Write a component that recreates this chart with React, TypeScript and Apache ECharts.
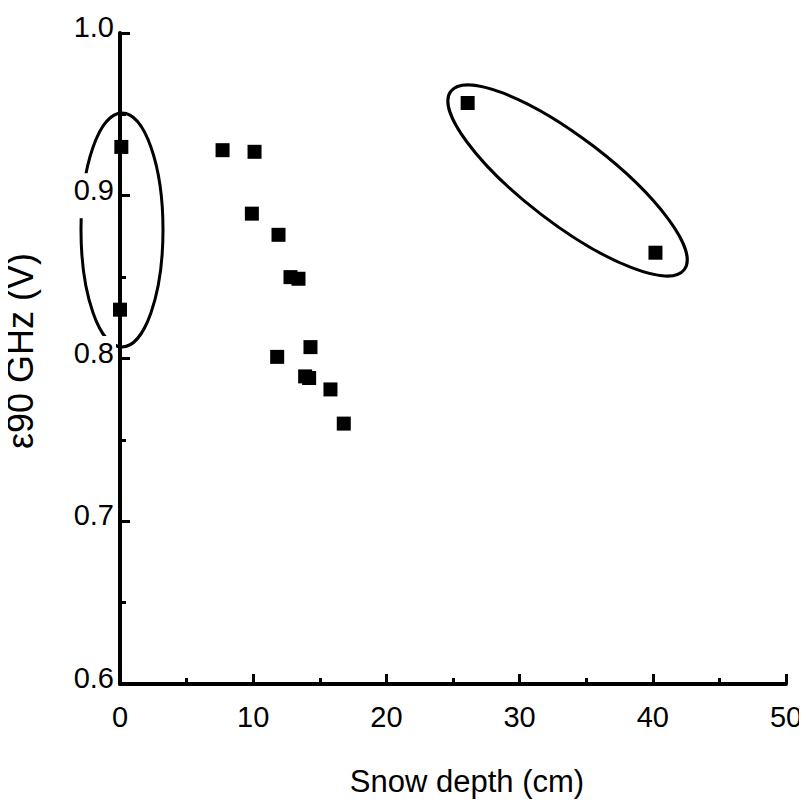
import React, { useEffect, useRef } from "react";
import * as echarts from "echarts";

// Data
const snowDepth = [0.1, 0, 7.7, 10.1, 9.9, 11.9, 12.8, 13.4, 14.3, 11.8, 13.9, 14.2, 15.8, 16.8, 26.1, 40.2];
const emissivity90V = [0.93, 0.83, 0.928, 0.927, 0.889, 0.876, 0.85, 0.849, 0.807, 0.801, 0.789, 0.788, 0.781, 0.76, 0.957, 0.865];

const xRange = [0, 50];
const yRange = [0.6, 1.0];
const xTickStep = 10;
const yTickStep = 0.1;

// Annotation ellipses: centre in data units
const ellipseCentres = [
  [0.15, 0.879],
  [33.6, 0.9094],
];

const FONT = "'Liberation Sans', Arial, Helvetica, sans-serif";

export default function App() {
  const ref = useRef<HTMLDivElement>(null);

  useEffect(() => {
    if (!ref.current) return;
    const chart = echarts.init(ref.current, undefined, { renderer: "svg" });
    const data = snowDepth.map((x, i) => [x, emissivity90V[i]]);

    chart.setOption({
      animation: false,
      backgroundColor: "#ffffff",
      grid: { left: 120, right: 21, top: 33, bottom: 124, containLabel: false, outerBoundsMode: "none" },
      xAxis: {
        type: "value",
        min: xRange[0],
        max: xRange[1],
        interval: xTickStep,
        name: "Snow depth (cm)",
        nameLocation: "middle",
        nameGap: 82,
        nameTextStyle: { fontFamily: FONT, fontSize: 31, color: "#000", padding: [0, 0, 0, 28] },
        axisLine: { show: true, onZero: false, lineStyle: { color: "#000", width: 4 } },
        axisTick: { show: true, inside: true, length: 10, lineStyle: { color: "#000", width: 3 } },
        minorTick: { show: true, splitNumber: 2, length: 6, lineStyle: { color: "#000", width: 3 } },
        splitLine: { show: false },
        minorSplitLine: { show: false },
        axisLabel: { fontFamily: FONT, fontSize: 29, color: "#000", margin: 18 },
      },
      yAxis: {
        type: "value",
        min: yRange[0],
        max: yRange[1],
        interval: yTickStep,
        z: 5,
        name: "\u03b590 GHz (V)",
        nameLocation: "middle",
        nameGap: 82,
        nameRotate: 90,
        nameTextStyle: { fontFamily: FONT, fontSize: 36, color: "#000", padding: [0, 0, 0, 15] },
        axisLine: { show: true, onZero: false, lineStyle: { color: "#000", width: 4 } },
        axisTick: { show: true, inside: true, length: 10, lineStyle: { color: "#000", width: 3 } },
        minorTick: { show: true, splitNumber: 2, length: 6, lineStyle: { color: "#000", width: 3 } },
        splitLine: { show: false },
        minorSplitLine: { show: false },
        axisLabel: {
          color: "#000",
          margin: 4,
          backgroundColor: "#ffffff",
          padding: [2, 2, 2, 2],
          formatter: (v: number) => `{t|${v.toFixed(1)}}`,
          rich: {
            t: { fontFamily: FONT, fontSize: 29, color: "#000", padding: [0, 0, 12, 0] },
          },
        },
      },
      series: [
        {
          type: "scatter",
          data,
          symbol: "rect",
          symbolSize: 14,
          itemStyle: { color: "#000", opacity: 1 },
          z: 3,
        },
      ],
    });

    const sizes = [
      { rx: 41, ry: 117, rot: 0 },
      { rx: 147, ry: 43, rot: (-37.4 * Math.PI) / 180 },
    ];
    const elements = ellipseCentres.map((c, i) => {
      const p = chart.convertToPixel({ seriesIndex: 0 }, c) as number[];
      return {
        type: "ellipse",
        x: p[0],
        y: p[1],
        rotation: sizes[i].rot,
        z: 1,
        shape: { cx: 0, cy: 0, rx: sizes[i].rx, ry: sizes[i].ry },
        style: { fill: "none", stroke: "#000", lineWidth: 3 },
        silent: true,
      };
    });
    chart.setOption({ graphic: { elements } });

    return () => chart.dispose();
  }, []);

  return <div ref={ref} style={{ width: 807, height: 808, margin: -8 }} />;
}
